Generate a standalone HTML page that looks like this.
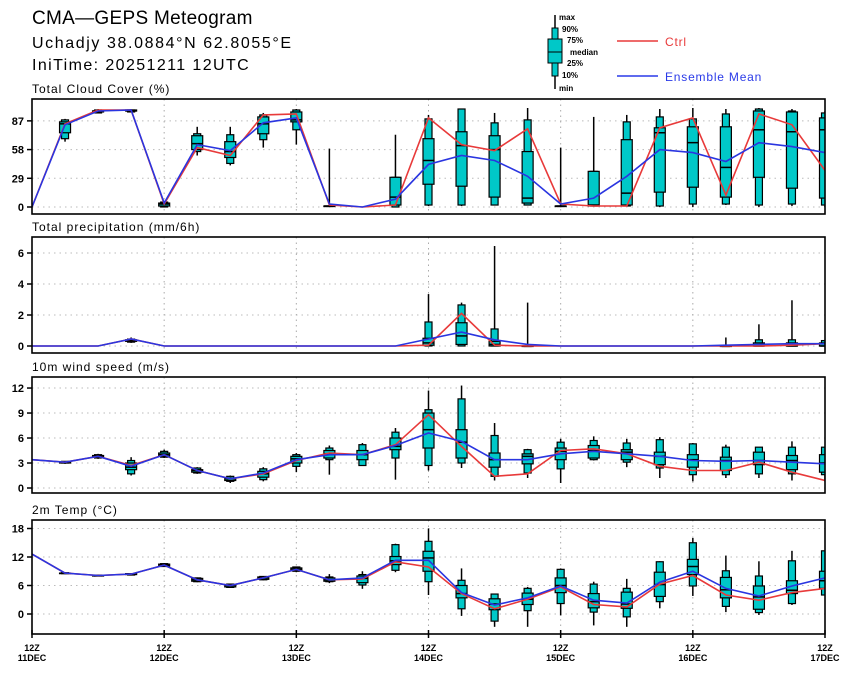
<!DOCTYPE html>
<html><head><meta charset="utf-8"><style>
body{margin:0;background:#fff;width:851px;height:673px;overflow:hidden}
svg{display:block;font-family:"Liberation Sans",sans-serif}
</style></head><body>
<svg id="chart" width="851" height="673" viewBox="0 0 851 673">
<text x="32" y="24" font-size="19" letter-spacing="0.3">CMA—GEPS Meteogram</text>
<text x="32" y="48" font-size="16" letter-spacing="1.6">Uchadjy 38.0884°N 62.8055°E</text>
<text x="32" y="70" font-size="16" letter-spacing="1.4">IniTime: 20251211 12UTC</text>
<g font-size="8" font-weight="bold">
 <line x1="555" y1="15" x2="555" y2="89" stroke="#000" stroke-width="1.5"/>
 <rect x="552" y="28" width="6" height="48" fill="#00c8c8" stroke="#000"/>
 <rect x="548" y="39" width="14" height="24" fill="#00c8c8" stroke="#000"/>
 <line x1="548" y1="52" x2="562" y2="52" stroke="#000"/>
 <text x="559" y="20">max</text><text x="562" y="32">90%</text><text x="567" y="43">75%</text>
 <text x="570" y="55">median</text><text x="567" y="66">25%</text><text x="562" y="78">10%</text><text x="559" y="91">min</text>
 <line x1="617" y1="41" x2="658" y2="41" stroke="#e83a3a" stroke-width="1.5"/>
 <text x="665" y="46" font-size="12" font-weight="normal" letter-spacing="0.8" fill="#e83a3a">Ctrl</text>
 <line x1="617" y1="76" x2="658" y2="76" stroke="#2a3ae8" stroke-width="1.5"/>
 <text x="665" y="81" font-size="12" font-weight="normal" letter-spacing="0.8" fill="#2a3ae8">Ensemble Mean</text>
</g>
</svg>
<script>
const xLabels=["11DEC","12DEC","13DEC","14DEC","15DEC","16DEC","17DEC"];
const cloudTicks=[0,29,58,87];
const cloudMax=[0,89,99,99,6,81,81,95,99,59,0,73,93,99,95,100,60,91,93,99,100,99,100,99,97];
const cloudP90=[0,88,98,98,5,74,73,93,98,1,0,30,89,99,85,88,1,36,86,91,89,94,99,97,95];
const cloudP75=[0,86,97,98,4,72,66,91,96,1,0,30,69,76,72,56,1,36,68,80,81,81,97,96,90];
const cloudMed=[0,84,97,97,3,64,56,84,88,1,0,10,47,62,58,9,1,2,14,75,65,40,78,76,78];
const cloudP25=[0,75,96,97,1,58,50,74,86,1,0,2,23,21,10,4,1,1,2,15,20,10,30,19,9];
const cloudP10=[0,69,95,96,0,56,44,68,78,1,0,0,2,2,2,2,1,1,1,1,3,3,2,3,2];
const cloudMin=[0,66,95,96,0,52,42,60,63,1,0,0,1,1,2,2,1,1,1,0,0,2,0,1,0];
const cloudCtrl=[0,84,98,98,3,60,52,93,94,2,0,2,90,63,57,79,3,1,1,80,90,12,94,83,37];
const cloudMean=[0,83,97,98,4,63,57,85,90,3,0,8,43,52,47,31,3,9,31,58,55,46,65,61,55];

const precTicks=[0,2,4,6];
const precMax=[0,0,0,0.55,0,0,0,0,0,0,0,0,3.35,2.8,6.45,2.8,0,0,0,0,0,0.55,1.4,2.95,0.4];
const precP90=[0,0,0,0.45,0,0,0,0,0,0,0,0,1.55,2.65,1.1,0,0,0,0,0,0,0,0.4,0.4,0.35];
const precP75=[0,0,0,0.4,0,0,0,0,0,0,0,0,0.5,1.5,0.3,0,0,0,0,0,0,0,0.2,0.2,0.2];
const precMed=[0,0,0,0.35,0,0,0,0,0,0,0,0,0.2,0.65,0.1,0,0,0,0,0,0,0,0,0,0];
const precP25=[0,0,0,0.3,0,0,0,0,0,0,0,0,0.05,0.1,0,0,0,0,0,0,0,0,0,0,0];
const precP10=[0,0,0,0.25,0,0,0,0,0,0,0,0,0,0,0,0,0,0,0,0,0,0,0,0,0];
const precMin=[0,0,0,0.2,0,0,0,0,0,0,0,0,0,0,0,0,0,0,0,0,0,0,0,0,0];
const precCtrl=[0,0,0,0.45,0,0,0,0,0,0,0,0,0.05,2.1,0.05,0,0,0,0,0,0,0,0,0.05,0.15];
const precMean=[0,0,0,0.45,0,0,0,0,0,0,0,0,0.45,0.9,0.4,0.1,0,0,0,0,0,0.05,0.1,0.15,0.15];

const windTicks=[0,3,6,9,12];
const windMax=[3.4,3.2,4.1,3.7,4.6,2.5,1.5,2.5,4.2,5.1,5.4,7.2,11.7,12.3,7.8,4.7,5.9,6.2,5.9,6.1,5.4,5.2,4.9,5.6,4.9];
const windP90=[3.4,3.2,4.0,3.3,4.4,2.4,1.4,2.3,4.0,4.8,5.2,6.7,9.4,10.7,6.3,4.6,5.5,5.7,5.4,5.8,5.3,4.9,4.9,4.9,4.9];
const windP75=[3.4,3.1,3.9,3.0,4.2,2.2,1.2,2.0,3.8,4.5,4.5,6.0,9.0,7.0,4.2,4.1,4.8,5.1,4.6,4.3,4.0,3.7,4.3,3.9,4.0];
const windMed=[3.4,3.1,3.8,2.5,4.0,2.1,1.1,1.7,3.5,4.1,4.0,5.0,7.0,5.5,3.4,3.8,4.4,4.5,4.3,3.8,3.4,3.3,3.3,3.3,3.0];
const windP25=[3.4,3.0,3.7,2.2,3.8,1.9,0.9,1.3,3.0,3.6,3.4,4.6,4.8,3.6,2.5,2.9,3.4,3.6,3.4,2.8,2.5,2.1,2.8,2.2,1.9];
const windP10=[3.4,3.0,3.6,1.7,3.7,1.8,0.8,1.0,2.6,3.4,2.7,3.6,2.7,3.0,1.4,1.8,2.3,3.4,3.1,2.4,1.6,1.6,1.7,1.7,1.6];
const windMin=[3.4,2.9,3.5,1.5,3.6,1.7,0.6,0.8,1.9,1.6,2.7,1.0,2.1,2.4,0.9,1.2,0.6,3.3,2.5,1.2,0.8,1.2,1.2,0.9,0.8];
const windCtrl=[3.4,3.1,3.8,2.7,4.0,2.1,1.1,1.7,3.3,4.2,4.0,5.2,8.8,5.0,1.4,1.7,4.5,4.7,4.1,2.6,2.1,2.1,3.1,1.9,0.9];
const windMean=[3.4,3.1,3.8,2.6,4.0,2.1,1.1,1.8,3.4,4.0,4.0,5.1,6.6,5.6,3.4,3.4,4.1,4.4,4.1,3.8,3.3,3.2,3.3,3.1,2.9];

const tempTicks=[0,6,12,18];
const tempMax=[12.6,8.7,8.2,8.6,10.7,7.7,6.4,8.0,10.0,8.4,9.0,14.8,18.0,9.6,4.3,5.7,9.6,6.8,7.4,11.1,16.0,12.3,11.1,13.3,13.3];
const tempP90=[12.6,8.7,8.2,8.5,10.6,7.6,6.3,7.9,9.9,7.8,8.3,14.6,15.3,7.1,4.2,5.4,9.4,6.3,5.4,11.0,15.0,9.1,8.0,11.2,13.3];
const tempP75=[12.6,8.6,8.1,8.5,10.5,7.5,6.2,7.8,9.7,7.6,8.0,12.1,13.2,6.0,3.2,4.4,7.6,4.3,4.6,8.8,11.5,7.7,5.9,7.0,9.0];
const tempMed=[12.6,8.6,8.1,8.4,10.3,7.2,6.0,7.6,9.4,7.2,7.5,11.2,11.8,4.3,2.1,3.1,6.0,2.6,2.1,6.2,10.0,5.1,3.6,5.0,7.0];
const tempP25=[12.6,8.5,8.0,8.3,10.1,6.9,5.7,7.3,9.1,6.9,6.6,10.4,9.0,3.4,0.9,2.0,4.5,1.3,1.2,3.7,8.3,3.4,1.0,4.3,5.4];
const tempP10=[12.6,8.5,8.0,8.2,10.0,6.8,5.6,7.2,9.0,6.8,6.1,9.2,6.8,1.1,-1.5,0.7,2.2,0.4,-0.6,2.6,5.9,1.6,0.3,2.2,4.0];
const tempMin=[12.6,8.4,7.9,8.1,9.9,6.7,5.5,7.1,8.8,6.5,5.3,8.8,4.0,-0.4,-2.7,-2.7,-0.3,-2.4,-2.7,1.2,3.8,0.4,-0.2,1.9,4.0];
const tempCtrl=[12.6,8.6,8.1,8.4,10.3,7.2,6.0,7.6,9.4,7.2,7.4,11.0,9.9,4.3,1.1,3.1,5.7,2.0,1.5,6.3,8.1,4.0,2.9,4.5,5.4];
const tempMean=[12.6,8.6,8.1,8.4,10.3,7.2,6.0,7.6,9.4,7.2,7.6,11.3,11.3,4.5,1.9,3.4,5.9,2.9,2.3,6.7,9.0,5.4,3.8,5.9,7.6];

const svg=document.getElementById('chart');
const NS='http://www.w3.org/2000/svg';
const X0=32,X1=825;
function xs(i){return X0+(X1-X0)*i/24;}
function mk(tag,attrs,parent){const e=document.createElementNS(NS,tag);for(const k in attrs)e.setAttribute(k,attrs[k]);(parent||svg).appendChild(e);return e;}

function panel(key,title,top,bot,y0,ppu,ticks,d){
  const ys=v=>y0-v*ppu;
  const g=mk('g',{});
  
  
  const t=mk('text',{x:32,y:top-6,'font-size':12,'letter-spacing':1},g);t.textContent=title;
  
  
  const cp=mk('clipPath',{id:'clip-'+key},g);
  mk('rect',{x:X0,y:top,width:X1-X0,height:bot-top},cp);
  ticks.forEach(v=>{
    const gl=mk('line',{x1:X0,x2:X1,y1:ys(v),y2:ys(v),stroke:'#bbb','stroke-dasharray':'1.5,4'},g);
    
    
    mk('line',{x1:X0-5,x2:X0,y1:ys(v),y2:ys(v),stroke:'#000','stroke-width':1.5},g);
    const tl=mk('text',{x:X0-8,y:ys(v)+4,'font-size':11,'font-weight':'bold','text-anchor':'end'},g);
    tl.textContent=v;
    
    
  });
  for(let k=1;k<6;k++){
    mk('line',{x1:xs(k*4),x2:xs(k*4),y1:top,y2:bot,stroke:'#aaa','stroke-dasharray':'1.5,4'},g);
  }
  const cg=mk('g',{'clip-path':'url(#clip-'+key+')'},g);
  for(let i=0;i<25;i++){
    if(d.mx[i]-d.mn[i]<0.01)continue;
    const x=xs(i);
    const bg=mk('g',{},cg);
    
    
    mk('line',{x1:x,x2:x,y1:ys(d.mx[i]),y2:ys(d.mn[i]),stroke:'#000','stroke-width':1.5},bg);
    mk('rect',{x:x-3.5,y:ys(d.p90[i]),width:7,height:Math.max(0.5,ys(d.p10[i])-ys(d.p90[i])),fill:'#00c8c8',stroke:'#000','stroke-width':1.2},bg);
    mk('rect',{x:x-5.5,y:ys(d.p75[i]),width:11,height:Math.max(0.5,ys(d.p25[i])-ys(d.p75[i])),fill:'#00c8c8',stroke:'#000','stroke-width':1.2},bg);
    mk('line',{x1:x-5.5,x2:x+5.5,y1:ys(d.med[i]),y2:ys(d.med[i]),stroke:'#000','stroke-width':1.5},bg);
  }
  const pts=a=>a.map((v,i)=>xs(i).toFixed(1)+','+ys(v).toFixed(1)).join(' ');
  const lc=mk('polyline',{points:pts(d.ctrl),fill:'none',stroke:'#e83a3a','stroke-width':1.6},cg);
  
  
  const lm=mk('polyline',{points:pts(d.mean),fill:'none',stroke:'#2a35e0','stroke-width':1.6},cg);
  
  
  const fr=mk('rect',{x:X0,y:top,width:X1-X0,height:bot-top,fill:'none',stroke:'#000','stroke-width':1.6},g);
  
  
}
panel('cloud','Total Cloud Cover (%)',99,214,207,0.99,cloudTicks,{mx:cloudMax,p90:cloudP90,p75:cloudP75,med:cloudMed,p25:cloudP25,p10:cloudP10,mn:cloudMin,ctrl:cloudCtrl,mean:cloudMean});
panel('precip','Total precipitation (mm/6h)',237,353,346,15.5,precTicks,{mx:precMax,p90:precP90,p75:precP75,med:precMed,p25:precP25,p10:precP10,mn:precMin,ctrl:precCtrl,mean:precMean});
panel('wind','10m wind speed (m/s)',377,493,488,8.33,windTicks,{mx:windMax,p90:windP90,p75:windP75,med:windMed,p25:windP25,p10:windP10,mn:windMin,ctrl:windCtrl,mean:windMean});
panel('temp','2m Temp (°C)',520,634,614,4.75,tempTicks,{mx:tempMax,p90:tempP90,p75:tempP75,med:tempMed,p25:tempP25,p10:tempP10,mn:tempMin,ctrl:tempCtrl,mean:tempMean});
xLabels.forEach((lab,k)=>{
  const x=xs(k*4);
  mk('line',{x1:x,x2:x,y1:630,y2:638,stroke:'#000','stroke-width':1.5});
  const a=mk('text',{x:x,y:651,'font-size':9,'font-weight':'bold','text-anchor':'middle'});
  a.textContent='12Z';
  
  
  const b=mk('text',{x:x,y:661,'font-size':9,'font-weight':'bold','text-anchor':'middle'});
  b.textContent=lab;
  
  
});
</script>
</body></html>
